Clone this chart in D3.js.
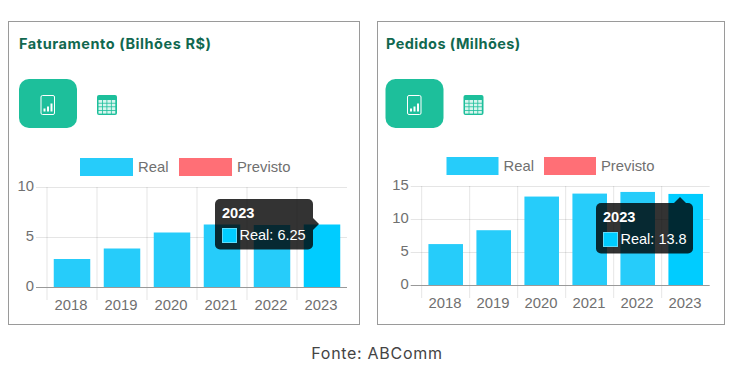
<!DOCTYPE html>
<html><head><meta charset="utf-8">
<script src="https://cdn.jsdelivr.net/npm/d3@7"></script>
<style>html,body{margin:0;padding:0;background:#fff}svg{display:block}</style>
</head><body><svg id="c" width="736" height="376"></svg>
<script>
const categories = ["2018","2019","2020","2021","2022","2023"];
const faturamento = [2.8,3.85,5.45,6.25,6.2,6.25];
const pedidos = [6.2,8.3,13.4,13.85,14.1,13.8];
const yTicksFat = [0,5,10];
const yTicksPed = [0,5,10,15];
const seriesNames = ["Real","Previsto"];
const seriesColors = ["#26ccfa","#ff6f76"];
const titles = ["Faturamento (Bilhões R$)","Pedidos (Milhões)"];
const tooltipLines = [["2023","Real: 6.25"],["2023","Real: 13.8"]];
const source = "Fonte: ABComm";

const svg = d3.select("#c");
const sans = "'Liberation Sans',Arial,sans-serif";
const title = "Inter,'Open Sans',sans-serif";

function panel(o){
  const g = svg.append("g");
  g.append("rect").attr("x",o.box[0]+.5).attr("y",o.box[1]+.5).attr("width",o.box[2]-o.box[0]).attr("height",o.box[3]-o.box[1])
    .attr("fill","#fff").attr("stroke","#9a9a9a");
  g.append("text").attr("x",o.tx).attr("y",48.5).text(o.title)
    .attr("font-family",title).attr("font-weight",700).attr("font-size",14.5).attr("letter-spacing",o.ls).attr("fill","#11684f");
  const b=o.btn;
  g.append("rect").attr("x",b).attr("y",79).attr("width",58).attr("height",49).attr("rx",10).attr("fill","#1dbf9b");
  g.append("rect").attr("x",b+22).attr("y",95.5).attr("width",13.5).attr("height",19).attr("rx",1.5).attr("fill","none").attr("stroke","#fff").attr("stroke-width",1);
  [[25,3],[28.5,5],[32,8]].forEach(d=>g.append("rect").attr("x",b+d[0]-.5).attr("y",111.5-d[1]).attr("width",2).attr("height",d[1]).attr("fill","#fff"));
  const t=b+78;
  g.append("rect").attr("x",t).attr("y",95).attr("width",20).attr("height",20).attr("rx",2).attr("fill","#1dbf9b");
  for(let i=0;i<4;i++)for(let j=0;j<4;j++)
    g.append("rect").attr("x",t+1.5+i*4.4).attr("y",100+j*3.6).attr("width",3.6).attr("height",2.8).attr("fill","#d7f5ee");
  const x = d3.scaleBand().domain(categories).range(o.xr).paddingInner(o.pad).paddingOuter(o.pad/2);
  const y = d3.scaleLinear().domain(o.dom).range(o.yr);
  const plot = g.append("g");
  categories.forEach(c=>{ const e=x(c)-x.step()*o.pad/2;
    plot.append("line").attr("x1",e).attr("x2",e).attr("y1",o.yr[1]).attr("y2",o.yr[0]+13).attr("stroke","#000").attr("stroke-opacity",.1);});
  const ya = d3.axisLeft(y).tickValues(o.ticks).tickSize(o.xr[1]-o.xr[0]+11).tickPadding(2);
  const yg = plot.append("g").attr("transform",`translate(${o.xr[1]},0)`).call(ya);
  yg.select(".domain").remove();
  yg.selectAll("line").attr("stroke",d=>d===0?"#999":"#000").attr("stroke-opacity",d=>d===0?1:.1);
  yg.selectAll("text").attr("font-family",sans).attr("font-size",14.8).attr("fill","#707070").attr("dy","0.26em");
  plot.selectAll(".bar").data(o.vals).enter().append("rect")
    .attr("x",(d,i)=>x(categories[i])).attr("width",x.bandwidth())
    .attr("y",d=>y(d)).attr("height",d=>y(0)-y(d))
    .attr("fill",(d,i)=>i===5?"#00ccff":seriesColors[0]);
  yg.selectAll("line").filter(d=>d===0).raise();
  const xa = d3.axisBottom(x).tickSize(0).tickPadding(o.xp);
  const xg = plot.append("g").attr("transform",`translate(${o.xs},${o.yr[0]})`).call(xa);
  xg.select(".domain").remove();
  xg.selectAll("text").attr("font-family",sans).attr("font-size",14.8).attr("fill","#707070");
  seriesNames.forEach((n,i)=>{
    g.append("rect").attr("x",o.leg[i]).attr("y",o.legY).attr("width",o.legW).attr("height",18).attr("fill",seriesColors[i]);
    g.append("text").attr("x",o.leg[i]+o.legW+5).attr("y",o.legY+14).text(n).attr("font-family",sans).attr("font-size",14.8).attr("fill","#707070");
  });
  const tt=o.tip, tg=g.append("g");
  const pth = d3.path();
  tg.append("rect").attr("x",tt.x).attr("y",tt.y).attr("width",tt.w).attr("height",50.5).attr("rx",5).attr("fill","#000").attr("fill-opacity",.8);
  if(tt.caret==="right"){pth.moveTo(tt.x+tt.w,tt.y+19);pth.lineTo(tt.x+tt.w+6,tt.y+25);pth.lineTo(tt.x+tt.w,tt.y+31);}
  else{pth.moveTo(tt.cx-6,tt.y);pth.lineTo(tt.cx,tt.y-6);pth.lineTo(tt.cx+6,tt.y);}
  pth.closePath();
  tg.append("path").attr("d",pth.toString()).attr("fill","#000").attr("fill-opacity",.8);
  tg.append("text").attr("x",tt.x+7).attr("y",tt.y+18.5).text(o.tipText[0]).attr("font-family",sans).attr("font-weight",700).attr("font-size",14.6).attr("fill","#fff");
  tg.append("rect").attr("x",tt.x+7.5).attr("y",tt.y+29.5).attr("width",14).attr("height",14).attr("fill","#00ccff").attr("stroke","#5fdcfb").attr("stroke-width",1);
  tg.append("text").attr("x",tt.x+24.5).attr("y",tt.y+40.5).text(o.tipText[1]).attr("font-family",sans).attr("font-size",14.5).attr("fill","#fff");
}

panel({box:[8,21,359,324],title:titles[0],tx:19,ls:.55,btn:19,xr:[47,347],yr:[287,187],dom:[0,10],ticks:yTicksFat,vals:faturamento,pad:.27,xs:-1,xp:12,
  leg:[80,179],legY:158,legW:53,tip:{x:215,y:199,w:98,caret:"right"},tipText:tooltipLines[0]});
panel({box:[377,21,724,324],title:titles[1],tx:386,ls:.4,btn:385.5,xr:[421.7,709.7],yr:[285,186],dom:[0,15],ticks:yTicksPed,vals:pedidos,pad:.28,xs:-.7,xp:12,
  leg:[446.5,544],legY:157,legW:52,tip:{x:596,y:203,w:97,caret:"top",cx:680},tipText:tooltipLines[1]});

svg.append("text").attr("x",377).attr("y",358.5).attr("text-anchor","middle").text(source)
  .attr("font-family",title).attr("font-size",16).attr("letter-spacing",.7).attr("fill","#444");
</script></body></html>
